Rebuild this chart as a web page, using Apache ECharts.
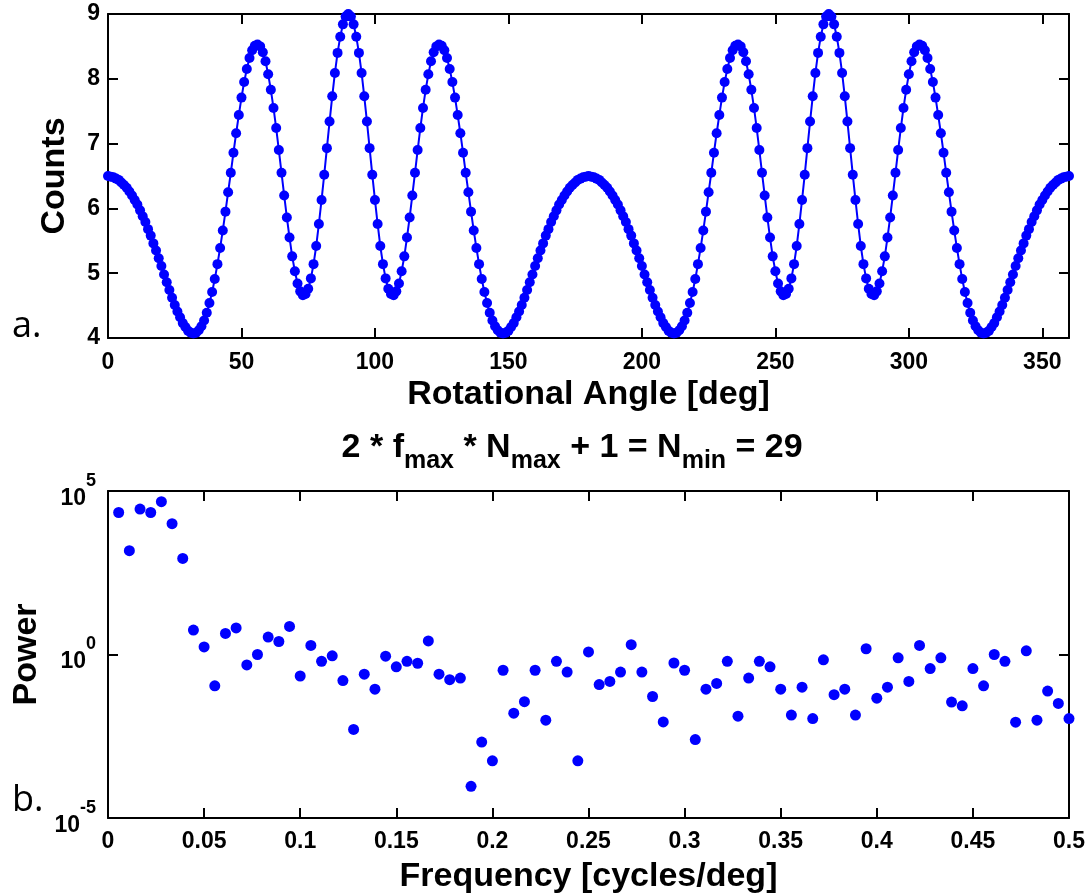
<!DOCTYPE html>
<html>
<head>
<meta charset="utf-8">
<title>Counts vs rotational angle and power spectrum</title>
<script src="https://cdn.jsdelivr.net/npm/echarts@6/dist/echarts.min.js"></script>
<style>
  html, body { margin: 0; padding: 0; background: #ffffff; }
  #chart { width: 1089px; height: 896px; }
</style>
</head>
<body>
<div id="chart"></div>
<script>
// Panel a: detector counts sampled every degree, 0..360 deg
const counts = [
  6.50, 6.49, 6.48, 6.46, 6.44, 6.40, 6.36, 6.32, 6.26, 6.20,
  6.13, 6.06, 5.97, 5.88, 5.79, 5.68, 5.58, 5.46, 5.35, 5.23,
  5.11, 4.98, 4.86, 4.74, 4.62, 4.51, 4.41, 4.32, 4.23, 4.17,
  4.11, 4.08, 4.07, 4.08, 4.12, 4.18, 4.27, 4.39, 4.54, 4.71,
  4.91, 5.14, 5.39, 5.66, 5.95, 6.25, 6.55, 6.86, 7.16, 7.44,
  7.71, 7.95, 8.15, 8.32, 8.44, 8.51, 8.53, 8.50, 8.41, 8.27,
  8.07, 7.83, 7.55, 7.24, 6.90, 6.55, 6.20, 5.86, 5.55, 5.26,
  5.03, 4.84, 4.72, 4.66, 4.68, 4.76, 4.92, 5.14, 5.42, 5.76,
  6.13, 6.52, 6.93, 7.34, 7.73, 8.09, 8.40, 8.65, 8.84, 8.96,
  9.00, 8.96, 8.84, 8.65, 8.40, 8.09, 7.73, 7.34, 6.93, 6.52,
  6.13, 5.76, 5.42, 5.14, 4.92, 4.76, 4.68, 4.66, 4.72, 4.84,
  5.03, 5.26, 5.55, 5.86, 6.20, 6.55, 6.90, 7.24, 7.55, 7.83,
  8.07, 8.27, 8.41, 8.50, 8.53, 8.51, 8.44, 8.32, 8.15, 7.95,
  7.71, 7.44, 7.16, 6.86, 6.55, 6.25, 5.95, 5.66, 5.39, 5.14,
  4.91, 4.71, 4.54, 4.39, 4.27, 4.18, 4.12, 4.08, 4.07, 4.08,
  4.11, 4.17, 4.23, 4.32, 4.41, 4.51, 4.62, 4.74, 4.86, 4.98,
  5.11, 5.23, 5.35, 5.46, 5.58, 5.68, 5.79, 5.88, 5.97, 6.06,
  6.13, 6.20, 6.26, 6.32, 6.36, 6.40, 6.44, 6.46, 6.48, 6.49,
  6.50, 6.49, 6.48, 6.46, 6.44, 6.40, 6.36, 6.32, 6.26, 6.20,
  6.13, 6.06, 5.97, 5.88, 5.79, 5.68, 5.58, 5.46, 5.35, 5.23,
  5.11, 4.98, 4.86, 4.74, 4.62, 4.51, 4.41, 4.32, 4.23, 4.17,
  4.11, 4.08, 4.07, 4.08, 4.12, 4.18, 4.27, 4.39, 4.54, 4.71,
  4.91, 5.14, 5.39, 5.66, 5.95, 6.25, 6.55, 6.86, 7.16, 7.44,
  7.71, 7.95, 8.15, 8.32, 8.44, 8.51, 8.53, 8.50, 8.41, 8.27,
  8.07, 7.83, 7.55, 7.24, 6.90, 6.55, 6.20, 5.86, 5.55, 5.26,
  5.03, 4.84, 4.72, 4.66, 4.68, 4.76, 4.92, 5.14, 5.42, 5.76,
  6.13, 6.52, 6.93, 7.34, 7.73, 8.09, 8.40, 8.65, 8.84, 8.96,
  9.00, 8.96, 8.84, 8.65, 8.40, 8.09, 7.73, 7.34, 6.93, 6.52,
  6.13, 5.76, 5.42, 5.14, 4.92, 4.76, 4.68, 4.66, 4.72, 4.84,
  5.03, 5.26, 5.55, 5.86, 6.20, 6.55, 6.90, 7.24, 7.55, 7.83,
  8.07, 8.27, 8.41, 8.50, 8.53, 8.51, 8.44, 8.32, 8.15, 7.95,
  7.71, 7.44, 7.16, 6.86, 6.55, 6.25, 5.95, 5.66, 5.39, 5.14,
  4.91, 4.71, 4.54, 4.39, 4.27, 4.18, 4.12, 4.08, 4.07, 4.08,
  4.11, 4.17, 4.23, 4.32, 4.41, 4.51, 4.62, 4.74, 4.86, 4.98,
  5.11, 5.23, 5.35, 5.46, 5.58, 5.68, 5.79, 5.88, 5.97, 6.06,
  6.13, 6.20, 6.26, 6.32, 6.36, 6.40, 6.44, 6.46, 6.48, 6.49,
  6.50
];
const angleStepDeg = 1;

// Panel b: power spectrum, one value per frequency bin (bin width 1/180 cycles/deg)
const freqBinWidth = 1 / 180;
const power = [
  2.2e4, 1.5e3, 2.8e4, 2.2e4, 4.7e4, 1.0e4, 870, 5.6, 1.7, 0.11,
  4.4, 6.5, 0.48, 1.0, 3.4, 2.5, 7.2, 0.22, 1.9, 0.62,
  0.91, 0.16, 5.1e-3, 0.25, 0.087, 0.89, 0.42, 0.62, 0.54, 2.6,
  0.25, 0.17, 0.19, 9.3e-5, 2.1e-3, 5.6e-4, 0.33, 0.016, 0.036, 0.33,
  9.8e-3, 0.62, 0.29, 5.6e-4, 1.2, 0.12, 0.15, 0.29, 2.0, 0.29,
  0.052, 8.7e-3, 0.55, 0.33, 2.5e-3, 0.087, 0.13, 0.62, 0.013, 0.19,
  0.62, 0.42, 0.087, 0.014, 0.10, 0.011, 0.69, 0.059, 0.087, 0.014,
  1.5, 0.046, 0.10, 0.79, 0.15, 1.9, 0.37, 0.79, 0.035, 0.027,
  0.37, 0.11, 1.0, 0.62, 8.5e-3, 1.3, 9.8e-3, 0.076, 0.032, 0.011
];

// Axis ranges and tick steps
const angleRange = [0, 360], angleTickStep = 50;
const countRange = [4, 9], countTickStep = 1;
const freqRange = [0, 0.5], freqTickStep = 0.05;
const powerRange = [1e-5, 1e5];

const angleSeries = counts.map((c, i) => [i * angleStepDeg, c]);
const powerSeries = power.map((p, i) => [(i + 1) * freqBinWidth, p]);

const FONT = '"Liberation Sans", Arial, Helvetica, sans-serif';
const BLUE = '#0000ff';
const axisLine = { show: true, onZero: false, lineStyle: { color: '#000', width: 2 } };
const innerTick = { show: true, inside: true, length: 10, lineStyle: { color: '#000', width: 2 } };
const tickText = { color: '#000', fontFamily: FONT, fontWeight: 'bold', fontSize: 23 };
const axisTitle = { color: '#000', fontFamily: FONT, fontWeight: 'bold', fontSize: 34 };
const noSplit = { show: false };

function mirrorAxis(base, position) {
  return Object.assign({}, base, {
    position: position,
    name: '',
    axisLabel: { show: false },
    axisLine: axisLine,
    axisTick: innerTick,
    splitLine: noSplit
  });
}

const xAngle = {
  gridIndex: 0, type: 'value', min: angleRange[0], max: angleRange[1], interval: angleTickStep,
  position: 'bottom', axisLine: axisLine, axisTick: innerTick, splitLine: noSplit,
  axisLabel: Object.assign({ margin: 13, showMaxLabel: false }, tickText),
  name: 'Rotational Angle [deg]', nameLocation: 'middle', nameGap: 40, nameTextStyle: axisTitle
};
const yCount = {
  gridIndex: 0, type: 'value', min: countRange[0], max: countRange[1], interval: countTickStep,
  position: 'left', axisLine: axisLine, axisTick: innerTick, splitLine: noSplit,
  axisLabel: Object.assign({ margin: 8 }, tickText),
  name: 'Counts', nameLocation: 'middle', nameGap: 36, nameTextStyle: axisTitle
};
const xFreq = {
  gridIndex: 1, type: 'value', min: freqRange[0], max: freqRange[1], interval: freqTickStep,
  position: 'bottom', axisLine: axisLine, axisTick: innerTick, splitLine: noSplit,
  axisLabel: Object.assign({
    margin: 12,
    formatter: v => String(Math.round(v * 100) / 100)
  }, tickText),
  name: 'Frequency [cycles/deg]', nameLocation: 'middle', nameGap: 42, nameTextStyle: axisTitle
};
const yPower = {
  gridIndex: 1, type: 'log', logBase: 10, min: powerRange[0], max: powerRange[1], splitNumber: 2,
  position: 'left', axisLine: axisLine, axisTick: innerTick, splitLine: noSplit, minorTick: { show: false },
  axisLabel: {
    margin: 12,
    formatter: v => '{h| }{b|10}{s|' + Math.round(Math.log10(v)) + '}',
    rich: {
      h: { fontSize: 1, lineHeight: 38 },
      b: Object.assign({ verticalAlign: 'bottom', lineHeight: 26 }, tickText),
      s: { color: '#000', fontFamily: FONT, fontWeight: 'bold', fontSize: 18, lineHeight: 18, verticalAlign: 'top' }
    }
  },
  name: 'Power', nameLocation: 'middle', nameGap: 63, nameTextStyle: axisTitle
};

const titleRich = {
  h: { fontSize: 1, lineHeight: 43 },
  m: { color: '#000', fontFamily: FONT, fontWeight: 'bold', fontSize: 34, lineHeight: 34, verticalAlign: 'top' },
  s: { color: '#000', fontFamily: FONT, fontWeight: 'bold', fontSize: 25, lineHeight: 25, verticalAlign: 'bottom' }
};

const option = {
  animation: false,
  backgroundColor: '#ffffff',
  grid: [
    { left: 108, top: 14, width: 961, height: 324, containLabel: false },
    { left: 108, top: 491, width: 961, height: 327, containLabel: false }
  ],
  xAxis: [xAngle, mirrorAxis(xAngle, 'top'), xFreq, mirrorAxis(xFreq, 'top')],
  yAxis: [yCount, mirrorAxis(yCount, 'right'), yPower, mirrorAxis(yPower, 'right')],
  series: [
    {
      type: 'line', xAxisIndex: 0, yAxisIndex: 0, data: angleSeries,
      symbol: 'circle', symbolSize: 10, showSymbol: true,
      lineStyle: { color: BLUE, width: 2 }, itemStyle: { color: BLUE, opacity: 1 },
      emphasis: { disabled: true }
    },
    {
      type: 'scatter', xAxisIndex: 2, yAxisIndex: 2, data: powerSeries,
      symbol: 'circle', symbolSize: 11, itemStyle: { color: BLUE, opacity: 1 },
      emphasis: { disabled: true }
    }
  ],
  graphic: [
    {
      type: 'text', x: 572, y: 452, silent: true,
      style: {
        text: '{h| }{m|2 * f}{s|max}{m| * N}{s|max}{m| + 1 = N}{s|min}{m| = 29}',
        rich: titleRich, align: 'center', verticalAlign: 'middle'
      }
    },
    {
      type: 'text', x: 12, y: 327, silent: true,
      style: { text: 'a.', font: '36px "Open Sans", "Liberation Sans", sans-serif', fill: '#000', align: 'left', verticalAlign: 'middle' }
    },
    {
      type: 'text', x: 12, y: 801, silent: true,
      style: { text: 'b.', font: '36px "Open Sans", "Liberation Sans", sans-serif', fill: '#000', align: 'left', verticalAlign: 'middle' }
    }
  ]
};

const chart = echarts.init(document.getElementById('chart'), null, { renderer: 'canvas' });
chart.setOption(option);
</script>
</body>
</html>
